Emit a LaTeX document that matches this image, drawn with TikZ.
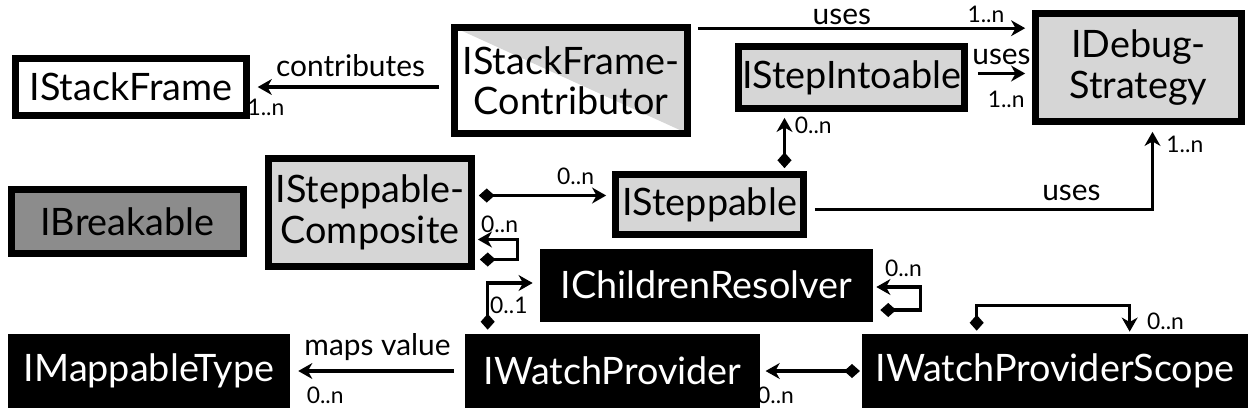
\documentclass[tikz,border=0pt]{standalone}
\usepackage{fontspec}
\setmainfont{Lato}
\usepackage{xcolor}
\usepackage{tikz}
\usetikzlibrary{arrows.meta}
\definecolor{ifacegray}{gray}{0.84}
\definecolor{breakgray}{gray}{0.55}

\begin{document}
\begin{tikzpicture}[x=0.02cm,y=-0.02cm,
  cls/.style={draw,line width=3.8pt,inner sep=0pt,align=center,font=\fontsize{21.5}{23}\selectfont},
  blk/.style={fill=black,text=white,inner sep=0pt,font=\fontsize{21.5}{23}\selectfont},
  lbl/.style={inner sep=1pt,font=\fontsize{17}{19}\selectfont},
  mult/.style={inner sep=1pt,font=\fontsize{13}{15}\selectfont},
  rel/.style={line width=1.9pt,-{Stealth[length=8pt,width=9pt,inset=2.5pt]}},
  own/.style={line width=1.9pt,{Diamond[length=9pt,width=8pt]}-{Stealth[length=8pt,width=9pt,inset=2.5pt]}}]
\useasboundingbox (0,0) rectangle (1259,414);

\node[cls,fill=white,minimum width=4.62cm,minimum height=1.14cm] (sf) at (131,87) {IStackFrame};
\node[cls,minimum width=4.66cm,minimum height=2.12cm,
  path picture={\fill[ifacegray] (path picture bounding box.north west) -- (path picture bounding box.north east) -- (path picture bounding box.south east) -- cycle;}]
  (sfc) at (571,80.5) {IStackFrame-\\Contributor};
\node[cls,fill=ifacegray,minimum width=4.52cm,minimum height=1.24cm] (sti) at (851.5,77.5) {IStepIntoable};
\node[cls,fill=ifacegray,minimum width=4.12cm,minimum height=2.16cm] (ids) at (1138.5,67.5) {IDebug-\\Strategy};
\node[cls,fill=breakgray,minimum width=4.64cm,minimum height=1.28cm] (brk) at (127.5,221.5) {IBreakable};
\node[cls,fill=ifacegray,minimum width=4.06cm,minimum height=2.16cm] (ssc) at (370,212.5) {ISteppable-\\Composite};
\node[cls,fill=ifacegray,minimum width=3.76cm,minimum height=1.2cm] (st) at (709.5,204.5) {ISteppable};
\node[blk,minimum width=6.66cm,minimum height=1.46cm] (icr) at (706.5,285) {IChildrenResolver};
\node[blk,minimum width=5.64cm,minimum height=1.48cm] (mt) at (149,371) {IMappableType};
\node[blk,minimum width=5.9cm,minimum height=1.48cm] (wp) at (612.5,371) {IWatchProvider};
\node[blk,minimum width=7.72cm,minimum height=1.48cm] (wps) at (1055,371) {IWatchProviderScope};

\draw[rel,shorten <=7pt,shorten >=4.5pt] (sfc.west |- sf.east) -- (sf.east)
  node[lbl,midway,above=4pt]{contributes} node[mult,pos=0.92,below=5pt]{1..n};
\draw[rel] ([shift={(7,4)}]sfc.north east) -- ([shift={(-7,18)}]ids.north west)
  node[lbl,pos=0.44,above=0pt]{uses} node[mult,pos=0.88,above=1pt]{1..n};
\draw[rel] ([shift={(10,-4)}]sti.east) -- ([shift={(-7,-4)}]sti.east -| ids.west)
  node[lbl,midway,above=3pt]{uses} node[mult,pos=0.6,below=8pt]{1..n};
\draw[own] ([shift={(75,-3)}]st.north) -- ([shift={(75,6)}]st.north |- sti.south)
  node[mult,pos=0.85,right=4pt]{0..n};
\draw[own] ([shift={(4,-17)}]ssc.east) -- ([shift={(-6,-9)}]st.west)
  node[mult,pos=0.76,above=4pt]{0..n};
\draw[rel] ([shift={(8,5)}]st.east) -| ([shift={(14,7)}]ids.south)
  node[lbl,pos=0.38,above=3pt]{uses} node[mult,pos=0.92,right=6pt]{1..n};
\draw[own] ([shift={(5,47)}]ssc.east) -- ++(38,0) |- ([shift={(3,27)}]ssc.east)
  node[mult,anchor=south west,yshift=2pt]{0..n};
\draw[own] ([shift={(23,-4)}]wp.north west) |- ([shift={(-7,-2)}]icr.west)
  node[mult,anchor=north east,xshift=-1pt,yshift=-6pt]{0..1};
\draw[own] ([shift={(7,25)}]icr.east) -- ++(40,0) |- ([shift={(3,2)}]icr.east)
  node[mult,anchor=south west,xshift=3pt,yshift=4pt]{0..n};
\draw[own] ([shift={(115,-3)}]wps.north west) -- ++(0,-25) -| ([shift={(268,-2)}]wps.north west)
  node[mult,anchor=south west,xshift=8pt,yshift=-1pt]{0..n};
\draw[own,shorten <=1pt,shorten >=3pt] (wps.west) -- (wp.east)
  node[mult,pos=0.85,below=7pt]{0..n};
\draw[rel,shorten <=6pt,shorten >=4.5pt] (wp.west) -- (mt.east)
  node[lbl,midway,above=4pt]{maps value} node[mult,pos=0.8,below=7pt]{0..n};
\end{tikzpicture}
\end{document}
